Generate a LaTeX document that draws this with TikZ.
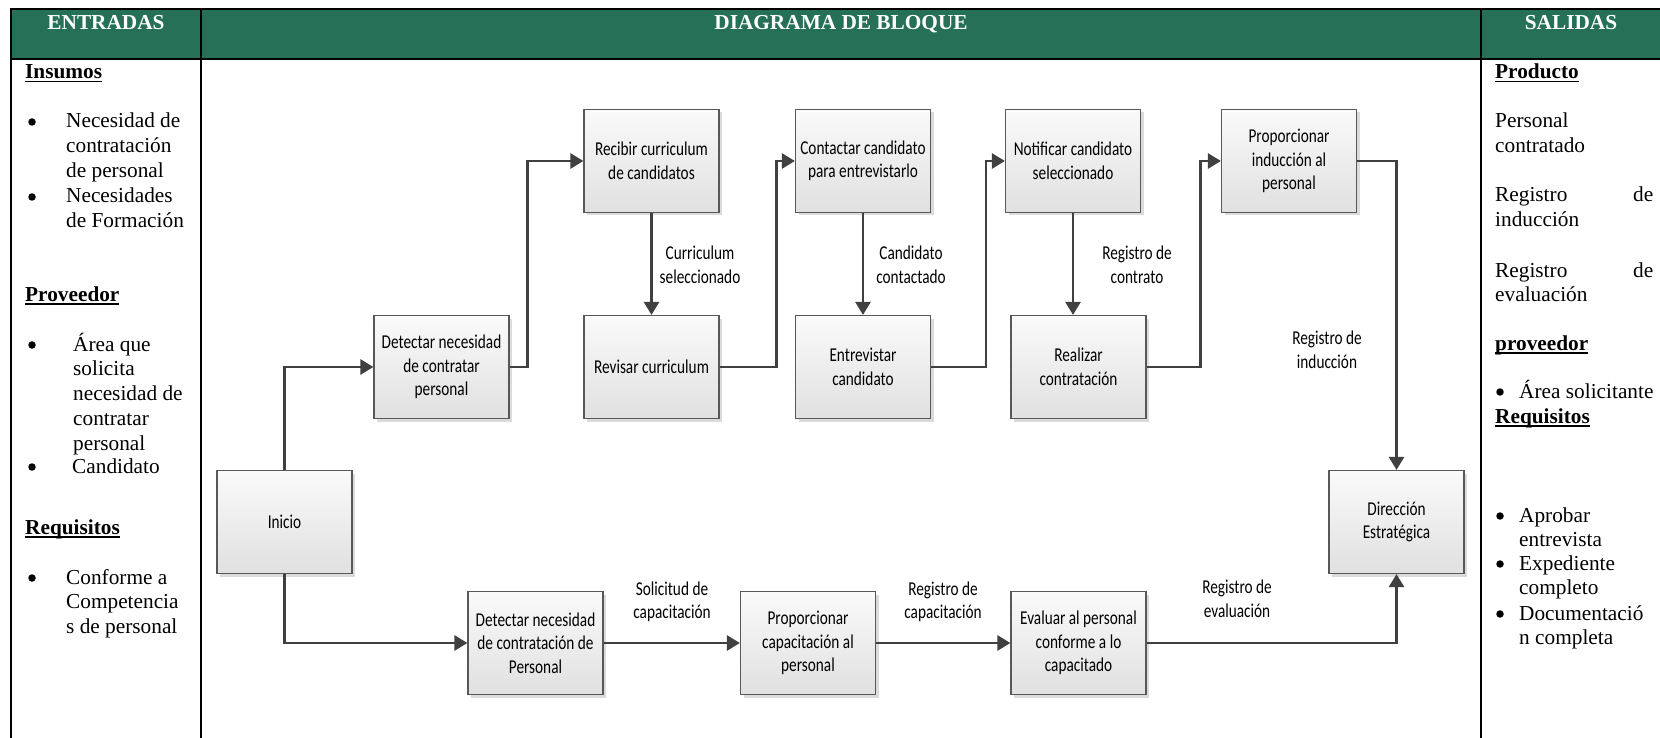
\documentclass[tikz,border=0pt]{standalone}
\usepackage{fontspec}
\setmainfont{Liberation Serif}
\newfontfamily\boxfont[FakeStretch=0.78]{Carlito}
\usetikzlibrary{arrows.meta,shadows}

\definecolor{headgreen}{RGB}{38,112,88}
\definecolor{boxline}{RGB}{88,88,88}
\definecolor{flowline}{RGB}{64,64,64}

\newcommand\colfont{\fontsize{21.3}{24.8}\selectfont}
\newcommand\blockfont{\boxfont\fontsize{19.6}{23.5}\selectfont}
% bold heading with a Word-style underline at a fixed depth
\newcommand\ulhead[1]{\setbox0\hbox{\textbf{#1}}\rlap{\rule[-3.5pt]{\wd0}{1.4pt}}\box0}
% several lines, baseline on the first one
\newcommand\stack[1]{\begin{tabular}[t]{@{}l@{}}#1\end{tabular}}

\tikzset{
  block/.style={draw=boxline, line width=1.2pt, top color=black!2, bottom color=black!12,
    minimum width=135pt, minimum height=103pt, inner sep=2pt, align=center, font=\blockfont,
    general shadow={shadow xshift=3pt, shadow yshift=-3pt, fill=black!14}},
  flow/.style={draw=flowline, line width=2.7pt, -{Triangle[length=13pt,width=15pt]}},
  lbl/.style={align=center, font=\blockfont, inner sep=0pt},
  tbl/.style={line width=2.2pt, black},
  hdr/.style={anchor=base, text=white, font=\colfont\bfseries, inner sep=0pt},
  side/.style={anchor=base west, inner sep=0pt, font=\colfont},
  dot/.style={circle, fill=black, draw=none, inner sep=0pt, minimum size=7.5pt},
}

\begin{document}
\begin{tikzpicture}[x=1pt,y=-1pt]
\useasboundingbox (0,0) rectangle (1660,738);

% table frame and header band
\fill[headgreen] (11,9) rectangle (1660,59);
\draw[tbl] (1660,9) -- (11,9) -- (11,738);
\draw[tbl] (11,59) -- (1660,59);
\draw[tbl] (201,9) -- (201,738);
\draw[tbl] (1481,9) -- (1481,738);

\node[hdr] (hin)  at (106,30)  {ENTRADAS};
\node[hdr] (hmid) at (841,30)  {DIAGRAMA DE BLOQUE};
\node[hdr] (hout) at (1571,30) {SALIDAS};

% inputs column
\node[side] (insumos) at (25,79) {\ulhead{Insumos}};
\node[dot] (b1) at (32,122) {};
\node[side] (t1) at (66,128) {\stack{Necesidad de\\contratación\\de personal}};
\node[dot] (b2) at (32,197) {};
\node[side] (t2) at (66,203) {\stack{Necesidades\\de Formación}};
\node[side] (prov) at (25,301) {\ulhead{Proveedor}};
\node[dot] (b3) at (32,345) {};
\node[side] (t3) at (73,351) {\stack{Área que\\solicita\\necesidad de\\contratar\\personal}};
\node[dot] (b4) at (32,467) {};
\node[side] (t4) at (72,473) {Candidato};
\node[side] (req) at (25,534) {\ulhead{Requisitos}};
\node[dot] (b5) at (32,578) {};
\node[side] (t5) at (66,584) {\stack{Conforme a\\Competencia\\s de personal}};

% outputs column
\node[side] (prod) at (1495,79) {\ulhead{Producto}};
\node[side] (o1) at (1495,128) {\stack{Personal\\contratado}};
\node[side] (o2) at (1495,202) {\stack{\makebox[158pt][l]{Registro\hfill de}\\inducción}};
\node[side] (o3) at (1495,277) {\stack{\makebox[158pt][l]{Registro\hfill de}\\evaluación}};
\node[side] (prov2) at (1495,350) {\ulhead{proveedor}};
\node[dot] (ob1) at (1500,392) {};
\node[side] (ot1) at (1519,398) {Área solicitante};
\node[side] (req2) at (1495,423) {\ulhead{Requisitos}};
\node[dot] (ob2) at (1500,516) {};
\node[side] (ot2) at (1519,522) {\stack{Aprobar\\entrevista}};
\node[dot] (ob3) at (1500,564) {};
\node[side] (ot3) at (1519,570) {\stack{Expediente\\completo}};
\node[dot] (ob4) at (1500,614) {};
\node[side] (ot4) at (1519,620) {\stack{Documentació\\n completa}};

% process blocks
\node[block] (inicio)      at (284.5,522)  {Inicio};
\node[block] (det1)        at (441.5,367)  {Detectar necesidad\\de contratar\\personal};
\node[block] (recibir)     at (651.5,161)  {Recibir curriculum\\de candidatos};
\node[block] (revisar)     at (651.5,367)  {Revisar curriculum};
\node[block] (contactar)   at (863,161)    {Contactar candidato\\para entrevistarlo};
\node[block] (entrevistar) at (863,367)    {Entrevistar\\candidato};
\node[block] (notificar)   at (1073,161)   {Notificar candidato\\seleccionado};
\node[block] (realizar)    at (1078.5,367) {Realizar\\contratación};
\node[block] (propind)     at (1289,161)   {Proporcionar\\inducción al\\personal};
\node[block] (direccion)   at (1396.5,522) {Dirección\\Estratégica};
\node[block] (det2)        at (535.5,643)  {Detectar necesidad\\de contratación de\\Personal};
\node[block] (propcap)     at (808,643)    {Proporcionar\\capacitación al\\personal};
\node[block] (evaluar)     at (1078.5,643) {Evaluar al personal\\conforme a lo\\capacitado};

% connectors
\draw[flow] (inicio.north) |- (det1.west);
\draw[flow] (inicio.south) |- (det2.west);
\draw[flow] (det1.east) -- ++(18,0) |- (recibir.west);
\draw[flow] (recibir.south) -- (revisar.north);
\draw[flow] (revisar.east) -- ++(57,0) |- (contactar.west);
\draw[flow] (contactar.south) -- (entrevistar.north);
\draw[flow] (entrevistar.east) -- ++(55,0) |- (notificar.west);
\draw[flow] (notificar.south) -- (notificar.south |- realizar.north);
\draw[flow] (realizar.east) -- ++(54,0) |- (propind.west);
\draw[flow] (propind.east) -| (direccion.north);
\draw[flow] (evaluar.east) -| (direccion.south);
\draw[flow] (det2.east) -- (propcap.west);
\draw[flow] (propcap.east) -- (evaluar.west);

% connector labels
\node[lbl] (l1) at (700,265)  {Curriculum\\seleccionado};
\node[lbl] (l2) at (911,265)  {Candidato\\contactado};
\node[lbl] (l3) at (1137,265) {Registro de\\contrato};
\node[lbl] (l4) at (1327,350) {Registro de\\inducción};
\node[lbl] (l5) at (672,602)  {Solicitud de\\capacitación};
\node[lbl] (l6) at (943,602)  {Registro de\\capacitación};
\node[lbl] (l7) at (1237,599) {Registro de\\evaluación};
\end{tikzpicture}
\end{document}
